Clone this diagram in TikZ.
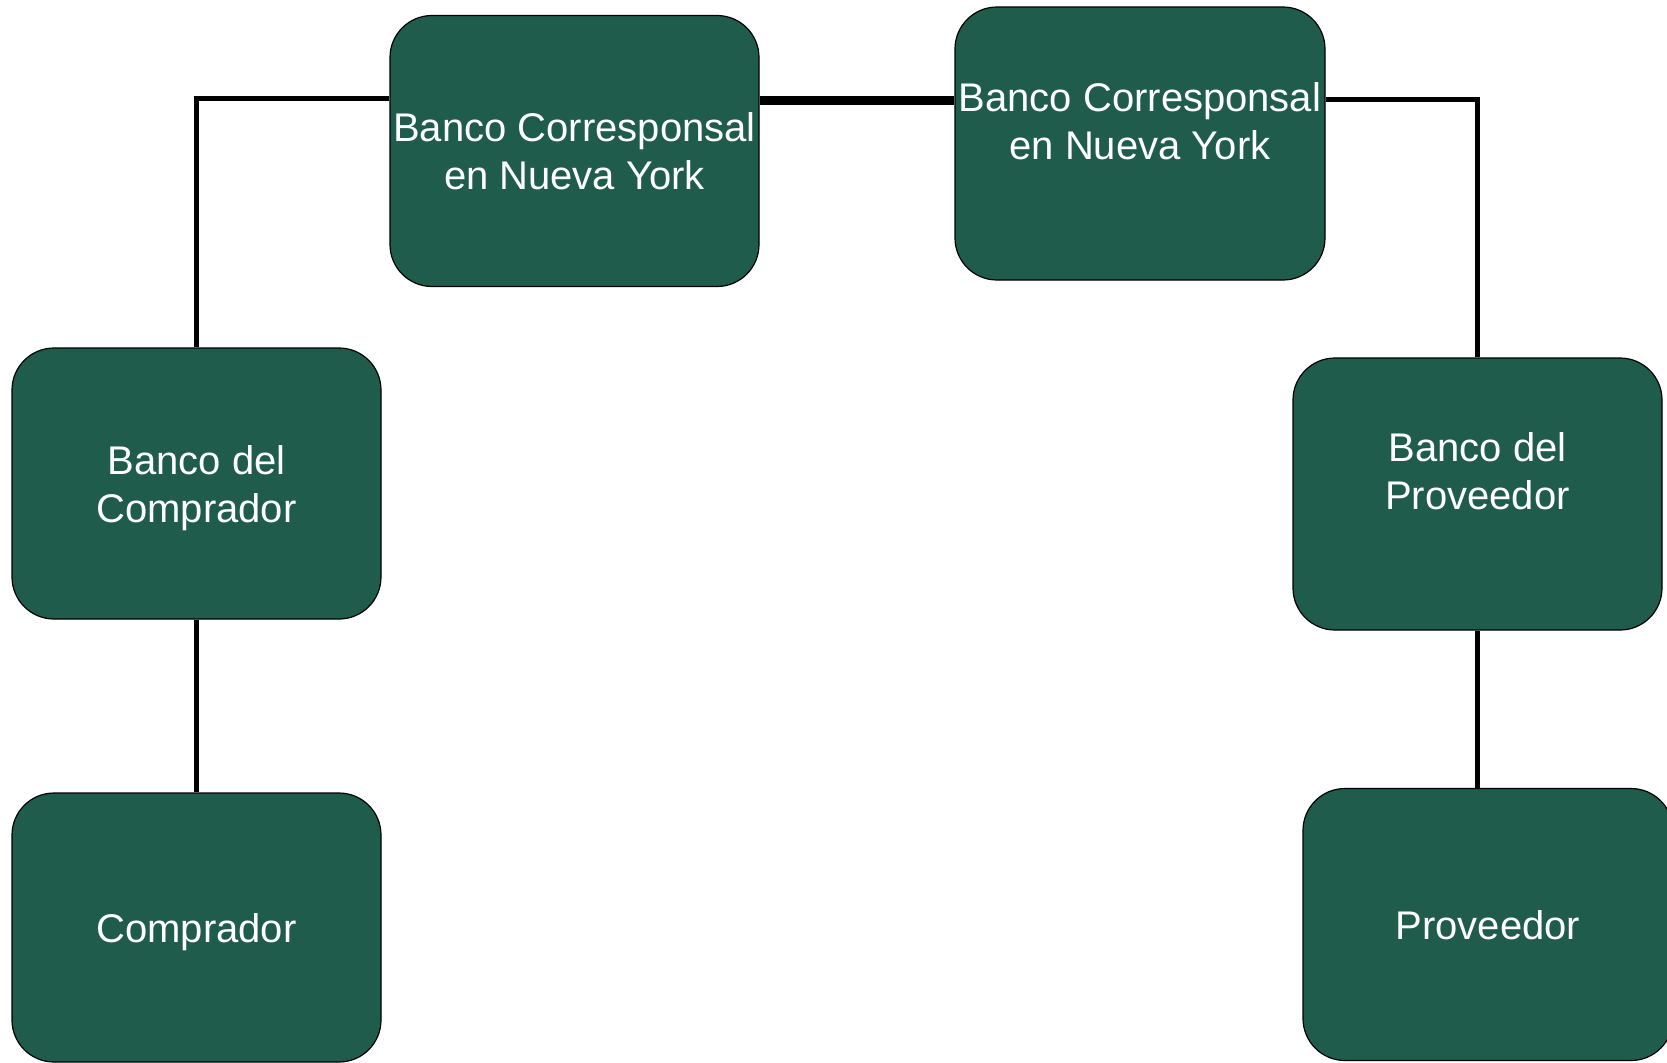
\documentclass[tikz,border=0pt]{standalone}
\usepackage{fontspec}
\setmainfont{Liberation Sans}
\definecolor{boxgreen}{RGB}{31,92,76}
\begin{document}
\begin{tikzpicture}[x=0.5pt,y=-0.5pt,
  box/.style={draw=black, line width=0.6pt, fill=boxgreen, rounded corners=21pt,
    minimum width=184.5pt, minimum height=135.5pt, inner sep=0pt},
  txt/.style={text=white, font=\fontsize{20}{24}\selectfont, align=center},
  link/.style={line width=2.5pt},
  biglink/.style={line width=4.5pt}]
\useasboundingbox (0,0) rectangle (1667,1062);
\fill[white] (0,0) rectangle (1667,1062);

% boxes
\node[box, txt] (c1) at (574.5,151) {Banco Corresponsal\\en Nueva York};
\node[box, minimum width=185pt, minimum height=136.5pt] (c2) at (1140,143.5) {};
\node[txt] (c2t) at ([yshift=11.25pt]c2.center) {Banco Corresponsal\\en Nueva York};
\node[box] (bc) at (196.5,483.5) {};
\node[txt] (bct) at ([yshift=-2.5pt]bc.center) {Banco del\\Comprador};
\node[box, minimum height=136pt] (bp) at (1477.5,494) {};
\node[txt] (bpt) at ([yshift=11.5pt]bp.center) {Banco del\\Proveedor};
\node[box, minimum height=134.5pt] (comp) at (196.5,927.5) {};
\node[txt] (compt) at ([yshift=-2.5pt]comp.center) {Comprador};
\node[box, minimum width=185pt, minimum height=136pt] (prov) at (1488,924.5) {};
\node[txt] (provt) at ([yshift=-0.5pt]prov.center) {Proveedor};

% connectors
\draw[link] (c1.west |- 0,98) -| (bc.north);
\draw[biglink] (c1.east |- 0,100) -- (c2.west |- 0,100);
\draw[link] (c2.east |- 0,99) -| (bp.north);
\draw[link] (bc.south) -- (comp.north);
\draw[link] (bp.south) -- (bp.south |- prov.north);
\end{tikzpicture}
\end{document}
